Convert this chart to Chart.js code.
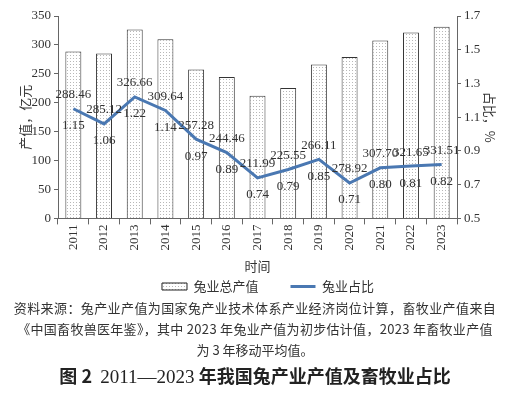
<!DOCTYPE html>
<html>
<head>
<meta charset="utf-8">
<script src="https://cdn.jsdelivr.net/npm/chart.js@4.4.1/dist/chart.umd.min.js"></script>
<style>
  body { margin: 0; background: #fff; width: 510px; height: 394px; overflow: hidden; position: relative; }
  #wrap { position: absolute; left: 0; top: 0; width: 510px; height: 303px; }
  #caption { position: absolute; left: 0; top: 297px; width: 510px; }
  .note { font-family: "Noto Sans CJK SC", sans-serif; font-size: 13px; color: #333; text-align: center; line-height: 21px; white-space: nowrap; }
  .title { font-family: "Noto Sans CJK SC", sans-serif; font-weight: bold; font-size: 18px; color: #222; text-align: center; margin-top: 2px; }
  .title span { font-family: "Liberation Serif", serif; font-weight: normal; font-size: 19px; }
</style>
</head>
<body>
<div id="wrap"><canvas id="chart"></canvas></div>
<div id="caption">
  <div class="note" style="letter-spacing:0.4px">资料来源：兔产业产值为国家兔产业技术体系产业经济岗位计算，畜牧业产值来自</div>
  <div class="note" style="letter-spacing:0.3px">《中国畜牧兽医年鉴》，其中 2023 年兔业产值为初步估计值，2023 年畜牧业产值</div>
  <div class="note">为 3 年移动平均值。</div>
  <div class="title">图 2&nbsp; <span>2011—2023</span> 年我国兔产业产值及畜牧业占比</div>
</div>
<script>
const years = ["2011", "2012", "2013", "2014", "2015", "2016", "2017", "2018", "2019", "2020", "2021", "2022", "2023"];
const outputValue = [288.46, 285.12, 326.66, 309.64, 257.28, 244.46, 211.99, 225.55, 266.11, 278.92, 307.70, 321.65, 331.51];
const shareValue = [1.15, 1.06, 1.22, 1.14, 0.97, 0.89, 0.74, 0.79, 0.85, 0.71, 0.80, 0.81, 0.82];
const leftTicks = [0, 50, 100, 150, 200, 250, 300, 350];
const rightTicks = [0.5, 0.7, 0.9, 1.1, 1.3, 1.5, 1.7];

const serif = "'Liberation Serif', 'DejaVu Serif', serif";
const cjk = "'Noto Sans CJK SC', sans-serif";
const lineColor = "#4a78b2";

// dotted fill for the bars
function makeDots() {
  const c = document.createElement("canvas");
  c.width = 3; c.height = 3;
  const g = c.getContext("2d");
  g.fillStyle = "#fff";
  g.fillRect(0, 0, 3, 3);
  g.fillStyle = "#b8b8b8";
  g.fillRect(1, 1, 1, 1);
  return g.createPattern(c, "repeat");
}
const dots = makeDots();

// value labels: bar values above the line point, shares below it
const valueLabels = {
  id: "valueLabels",
  afterLayout(chart) {
    // legend sits a little right of centre in the original
    chart.legend.left += 13;
    chart.legend.right += 13;
  },
  afterDatasetsDraw(chart) {
    const ctx = chart.ctx;
    const pts = chart.getDatasetMeta(1).data;
    ctx.save();
    ctx.font = "13px " + serif;
    ctx.fillStyle = "#333";
    ctx.textAlign = "center";
    ctx.textBaseline = "middle";
    pts.forEach((p, i) => {
      ctx.fillText(outputValue[i].toFixed(2), p.x, p.y - 14);
      ctx.fillText(shareValue[i].toFixed(2), p.x, p.y + 17);
    });
    ctx.restore();
  }
};

const axisGrid = { display: true, drawOnChartArea: false, color: "#666", tickLength: 4 };
const axisBorder = { display: true, color: "#666", width: 1 };

new Chart(document.getElementById("chart"), {
  data: {
    labels: years,
    datasets: [
      {
        type: "bar",
        label: "兔业总产值",
        data: outputValue,
        backgroundColor: dots,
        borderColor: "#333",
        borderWidth: 1,
        barPercentage: 0.52,
        categoryPercentage: 1,
        yAxisID: "y",
        order: 2
      },
      {
        type: "line",
        label: "兔业占比",
        data: shareValue,
        borderColor: lineColor,
        backgroundColor: lineColor,
        borderWidth: 3,
        pointRadius: 0,
        tension: 0,
        yAxisID: "y1",
        order: 1
      }
    ]
  },
  options: {
    responsive: true,
    maintainAspectRatio: false,
    animation: false,
    layout: { padding: { top: 16, left: 4, right: 4, bottom: 0 } },
    plugins: {
      tooltip: { enabled: false },
      legend: {
        position: "bottom",
        labels: {
          usePointStyle: true,
          pointStyleWidth: 25,
          boxHeight: 7,
          padding: 6,
          color: "#333",
          font: { family: cjk, size: 13 },
          generateLabels(chart) {
            const items = Chart.defaults.plugins.legend.labels.generateLabels(chart);
            items.sort((a, b) => a.datasetIndex - b.datasetIndex);
            items.forEach(it => {
              if (it.datasetIndex === 0) {
                it.pointStyle = "rect";
                it.strokeStyle = "#222";
                it.lineWidth = 1;
                it.text = it.text + "\u3000\u3000";
              } else {
                it.pointStyle = "line";
                it.strokeStyle = lineColor;
                it.lineWidth = 3;
              }
            });
            return items;
          }
        }
      }
    },
    scales: {
      x: {
        grid: { display: true, drawOnChartArea: false, color: "#666", tickLength: 6, offset: true },
        border: axisBorder,
        ticks: { color: "#333", font: { family: serif, size: 13 }, minRotation: 90, maxRotation: 90, padding: 0 },
        title: { display: true, text: "时间", color: "#333", font: { family: cjk, size: 13 }, padding: { top: 8, bottom: 0 } }
      },
      y: {
        position: "left",
        min: 0,
        max: 350,
        afterBuildTicks: s => { s.ticks = leftTicks.map(v => ({ value: v })); },
        afterFit: s => { s.width = 54; },
        grid: axisGrid,
        border: axisBorder,
        ticks: { color: "#333", font: { family: serif, size: 13 }, padding: 3 },
        title: { display: true, text: "产值，亿元", color: "#333", font: { family: cjk, size: 13 }, padding: 13 }
      },
      y1: {
        position: "right",
        min: 0.5,
        max: 1.7,
        afterBuildTicks: s => { s.ticks = rightTicks.map(v => ({ value: v })); },
        afterFit: s => { s.width = 49; },
        grid: axisGrid,
        border: axisBorder,
        ticks: { color: "#333", font: { family: serif, size: 13 }, padding: 3, callback: v => v.toFixed(1) },
        title: { display: true, text: "占比，%", color: "#333", font: { family: cjk, size: 13 }, padding: 8 }
      }
    }
  },
  plugins: [valueLabels]
});
</script>
</body>
</html>
